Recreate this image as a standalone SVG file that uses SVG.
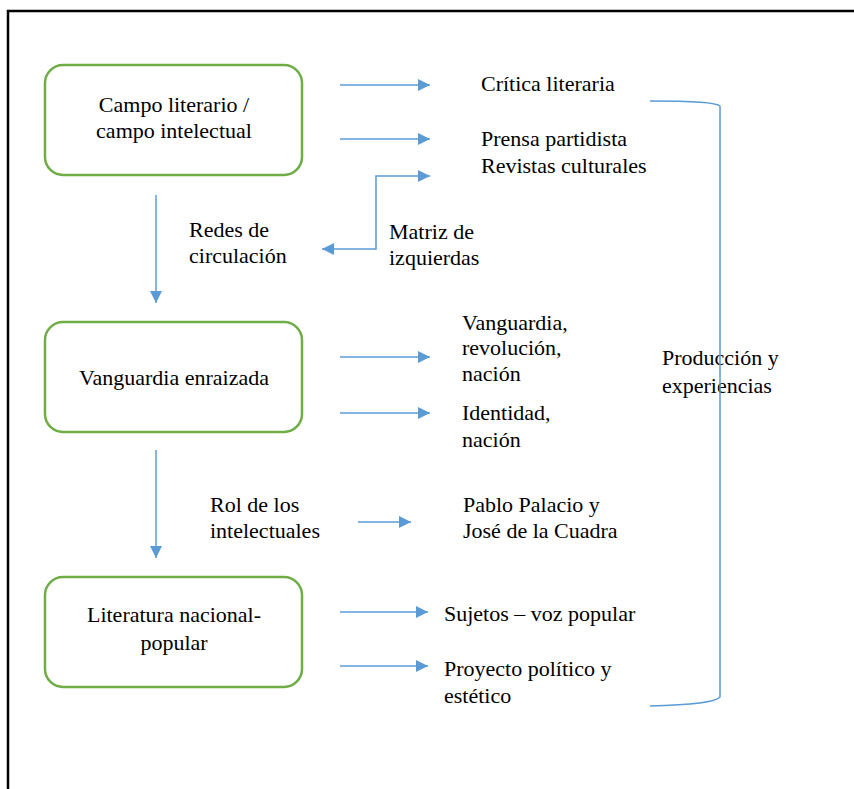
<svg xmlns="http://www.w3.org/2000/svg" width="854" height="789" viewBox="0 0 854 789">
<defs>
<style>
.box{fill:#fff;stroke:#70AD47;stroke-width:2.5}
.t{font-family:"Liberation Serif","Times New Roman",serif;font-size:22px;fill:#000}
.c{text-anchor:middle}
.ln{fill:none;stroke:#5B9BD5;stroke-width:1.5}
.ar{marker-end:url(#ah)}
</style>
<marker id="ah" markerUnits="userSpaceOnUse" markerWidth="13" markerHeight="12" refX="12" refY="6" orient="auto-start-reverse">
<path d="M0,0 L12,6 L0,12 z" fill="#5B9BD5"/>
</marker>
</defs>
<rect width="854" height="789" fill="#fff"/>
<g id="frame" fill="none" stroke="#000" stroke-width="2.5">
<path d="M8,789 L8,11 L854,11"/>
</g>
<g id="node-campo">
<rect class="box" x="45" y="65" width="257" height="110" rx="18"/>
<text class="t c" x="174" y="112">Campo literario /</text>
<text class="t c" x="174" y="138">campo intelectual</text>
</g>
<g id="node-vanguardia">
<rect class="box" x="45" y="322" width="257" height="110" rx="18"/>
<text class="t c" x="174" y="385">Vanguardia enraizada</text>
</g>
<g id="node-literatura">
<rect class="box" x="45" y="577" width="257" height="110" rx="18"/>
<text class="t c" x="174" y="622">Literatura nacional-</text>
<text class="t c" x="174" y="650">popular</text>
</g>
<g id="node-critica"><text class="t" x="481" y="91">Crítica literaria</text></g>
<g id="node-prensa">
<text class="t" x="481" y="146">Prensa partidista</text>
<text class="t" x="481" y="173">Revistas culturales</text>
</g>
<g id="node-redes">
<text class="t" x="189" y="237">Redes de</text>
<text class="t" x="189" y="263">circulación</text>
</g>
<g id="node-matriz">
<text class="t" x="389" y="239">Matriz de</text>
<text class="t" x="389" y="265">izquierdas</text>
</g>
<g id="node-vrn">
<text class="t" x="462" y="330">Vanguardia,</text>
<text class="t" x="462" y="355">revolución,</text>
<text class="t" x="462" y="381">nación</text>
</g>
<g id="node-identidad">
<text class="t" x="462" y="420">Identidad,</text>
<text class="t" x="462" y="447">nación</text>
</g>
<g id="node-rol">
<text class="t" x="210" y="512">Rol de los</text>
<text class="t" x="210" y="538">intelectuales</text>
</g>
<g id="node-pablo">
<text class="t" x="463" y="512">Pablo Palacio y</text>
<text class="t" x="463" y="538">José de la Cuadra</text>
</g>
<g id="node-sujetos"><text class="t" x="444" y="621">Sujetos – voz popular</text></g>
<g id="node-proyecto">
<text class="t" x="444" y="676">Proyecto político y</text>
<text class="t" x="444" y="703">estético</text>
</g>
<g id="node-produccion">
<text class="t" x="662" y="365">Producción y</text>
<text class="t" x="662" y="393">experiencias</text>
</g>
<g id="connectors">
<line class="ln ar" x1="340" y1="85" x2="430" y2="85"/>
<line class="ln ar" x1="340" y1="139" x2="430" y2="139"/>
<path class="ln" d="M322,249 L376,249 L376,176 L430,176" marker-start="url(#ah)" marker-end="url(#ah)"/>
<line class="ln ar" x1="156" y1="195" x2="156" y2="303"/>
<line class="ln ar" x1="340" y1="357" x2="430" y2="357"/>
<line class="ln ar" x1="340" y1="413" x2="430" y2="413"/>
<line class="ln ar" x1="156" y1="450" x2="156" y2="558"/>
<line class="ln ar" x1="358" y1="522" x2="411" y2="522"/>
<line class="ln ar" x1="340" y1="612" x2="428" y2="612"/>
<line class="ln ar" x1="340" y1="666" x2="428" y2="666"/>
<path class="ln" d="M650,101 C690,101 716,102 720,106 L720,697 C716,702 690,705 650,706"/>
</g>
</svg>
